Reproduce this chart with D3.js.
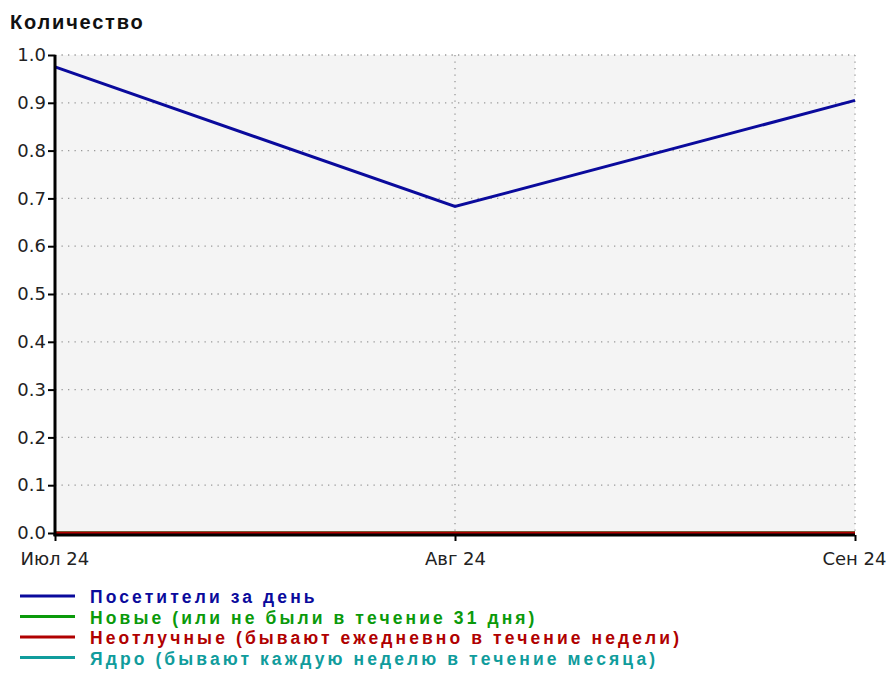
<!DOCTYPE html>
<html lang="ru">
<head>
<meta charset="UTF-8">
<title>Количество</title>
<script src="https://d3js.org/d3.v7.min.js"></script>
<style>
  body { margin: 0; background: #fff; }
  svg { display: block; }
</style>
</head>
<body>
<svg id="chart" width="888" height="675"></svg>
<script>
// months on the x axis
const months = ["Июл 24", "Авг 24", "Сен 24"]

// series values per month
const visitors = [0.975, 0.683, 0.905]
const newOnes = [0, 0, 0]
const regulars = [0, 0, 0]
const core = [0, 0, 0]

const seriesNames = [
  "Посетители за день",
  "Новые (или не были в течение 31 дня)",
  "Неотлучные (бывают ежедневно в течение недели)",
  "Ядро (бывают каждую неделю в течение месяца)"
]
const seriesColors = ["#0a0a9c", "#0a9a0a", "#b00000", "#109c9c"]

const yTicks = [0, 0.1, 0.2, 0.3, 0.4, 0.5, 0.6, 0.7, 0.8, 0.9, 1.0]

const svg = d3.select("#chart")
const plotL = 55, plotR = 855, plotT = 55, plotB = 533
const labelFont = "\"DejaVu Sans\", Verdana, sans-serif"
const boldFont = "\"Liberation Sans\", Arial, sans-serif"

const x = d3.scalePoint().domain(months).range([plotL, plotR])
const y = d3.scaleLinear().domain([0, 1]).range([plotB, plotT])

// plot background
svg.append("rect")
  .attr("x", plotL).attr("y", plotT)
  .attr("width", plotR - plotL).attr("height", plotB - plotT)
  .attr("fill", "#f4f4f4")

// dotted grid
svg.append("g").selectAll("line")
  .data(yTicks.filter(d => d > 0))
  .join("line")
  .attr("x1", plotL).attr("x2", plotR)
  .attr("y1", d => y(d)).attr("y2", d => y(d))
  .attr("stroke", "#999").attr("stroke-width", 1.3)
  .attr("stroke-dasharray", "1.3,5.2")

svg.append("g").selectAll("line")
  .data(months.slice(1))
  .join("line")
  .attr("x1", d => x(d)).attr("x2", d => x(d))
  .attr("y1", plotT).attr("y2", plotB)
  .attr("stroke", "#999").attr("stroke-width", 1.3)
  .attr("stroke-dasharray", "1.3,5.2")

// title
svg.append("text")
  .attr("x", 10).attr("y", 29)
  .attr("font-family", boldFont)
  .attr("font-weight", "bold").attr("font-size", 20)
  .attr("letter-spacing", 1.8)
  .attr("fill", "#111")
  .text("Количество")

// series lines, red last so it stays on top
const line = d3.line().x((d, i) => x(months[i])).y(d => y(d))
const allSeries = [visitors, newOnes, regulars, core]
const drawOrder = [0, 3, 1, 2]
drawOrder.forEach(i => {
  svg.append("path")
    .datum(allSeries[i])
    .attr("d", line)
    .attr("fill", "none")
    .attr("stroke", seriesColors[i])
    .attr("stroke-width", 3)
})

// axes
const yAxis = d3.axisLeft(y).tickValues(yTicks).tickFormat(d3.format(".1f")).tickSize(7).tickPadding(2)
const gy = svg.append("g").attr("transform", `translate(${plotL},0)`).call(yAxis)
  .attr("font-family", labelFont).attr("font-size", 18)
gy.select(".domain").remove()
gy.selectAll(".tick line").attr("stroke", "#000").attr("stroke-width", 2)
gy.selectAll(".tick text").attr("fill", "#222")

const xAxis = d3.axisBottom(x).tickSize(6).tickPadding(10)
const gx = svg.append("g").attr("transform", `translate(0,${plotB + 2})`).call(xAxis)
  .attr("font-family", labelFont).attr("font-size", 18)
gx.select(".domain").remove()
gx.selectAll(".tick line").attr("stroke", "#000").attr("stroke-width", 2)
gx.selectAll(".tick text").attr("fill", "#222").attr("y", 30).attr("dy", 0)
gx.selectAll(".tick text").filter((d, i) => i === 0).attr("text-anchor", "start").attr("dx", -35)
gx.selectAll(".tick text").filter((d, i) => i === months.length - 1).attr("text-anchor", "end").attr("dx", 31)

// axis lines
svg.append("line")
  .attr("x1", plotL).attr("x2", plotL).attr("y1", plotT).attr("y2", plotB + 3)
  .attr("stroke", "#000").attr("stroke-width", 3)
svg.append("line")
  .attr("x1", plotL - 1.5).attr("x2", plotR).attr("y1", plotB + 2).attr("y2", plotB + 2)
  .attr("stroke", "#000").attr("stroke-width", 3)

// legend
const legend = svg.append("g")
  .selectAll("g")
  .data(seriesNames)
  .join("g")
  .attr("transform", (d, i) => `translate(0,${603 + i * 20.5})`)
legend.append("line")
  .attr("x1", 20).attr("x2", 75).attr("y1", -7).attr("y2", -7)
  .attr("stroke", (d, i) => seriesColors[i]).attr("stroke-width", 3)
legend.append("text")
  .attr("x", 90).attr("y", 0)
  .attr("font-family", boldFont).attr("font-weight", "bold")
  .attr("font-size", 17.5).attr("letter-spacing", 3.1)
  .attr("fill", (d, i) => seriesColors[i])
  .text(d => d)
</script>
</body>
</html>
